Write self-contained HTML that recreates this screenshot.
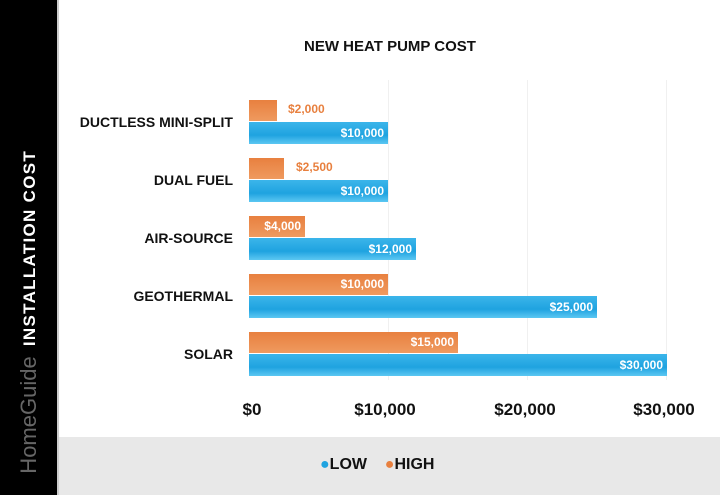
<!DOCTYPE html>
<html><head><meta charset="utf-8"><style>
body{margin:0;width:720px;height:495px;overflow:hidden;background:#fff;font-family:"Liberation Sans",sans-serif;position:relative}
.a{position:absolute}
.lbl{position:absolute;right:487px;font-weight:bold;font-size:14px;color:#111;white-space:nowrap}
.bar{position:absolute;left:249px;color:#fff;font-size:12px;font-weight:bold;text-align:right;box-sizing:border-box;padding-right:4px}
.lo{height:22px;line-height:22px;background:linear-gradient(#3bb5ea,#1fa3e0 60%,#5cc7f2)}
.hi{height:21px;line-height:21px;background:linear-gradient(#e8803f,#ef9a5f)}
.tk{position:absolute;top:400px;font-size:17px;font-weight:bold;color:#111;transform:translateX(-50%)}
</style></head><body>
<div class="a" style="left:0;top:0;width:57px;height:495px;background:#000"></div>
<div class="a" style="left:57px;top:0;width:2px;height:495px;background:#ccc"></div>
<div class="a" style="left:59px;top:437px;width:661px;height:58px;background:#e8e8e8"></div>
<div class="a" style="left:30px;top:248px;transform:translate(-50%,-50%) rotate(-90deg);color:#fff;font-weight:bold;font-size:17px;letter-spacing:1.3px;white-space:nowrap">INSTALLATION COST</div>
<div class="a" style="left:29px;top:415px;transform:translate(-50%,-50%) rotate(-90deg);color:#666;font-size:22px;white-space:nowrap">HomeGuide</div>
<div class="a" style="left:390px;top:38px;transform:translateX(-50%);font-weight:bold;font-size:15px;color:#111;white-space:nowrap">NEW HEAT PUMP COST</div>
<div class="a" style="left:388px;top:80px;width:1px;height:300px;background:#f0f0f0"></div>
<div class="a" style="left:527px;top:80px;width:1px;height:300px;background:#f0f0f0"></div>
<div class="a" style="left:666px;top:80px;width:1px;height:300px;background:#f0f0f0"></div>

<div class="lbl" style="top:114px">DUCTLESS MINI-SPLIT</div>
<div class="bar hi" style="top:100px;width:28px"></div>
<div class="a" style="left:288px;top:102px;color:#e8803f;font-size:12px;font-weight:bold">$2,000</div>
<div class="bar lo" style="top:122px;width:139px">$10,000</div>

<div class="lbl" style="top:172px">DUAL FUEL</div>
<div class="bar hi" style="top:158px;width:35px"></div>
<div class="a" style="left:296px;top:160px;color:#e8803f;font-size:12px;font-weight:bold">$2,500</div>
<div class="bar lo" style="top:180px;width:139px">$10,000</div>

<div class="lbl" style="top:230px">AIR-SOURCE</div>
<div class="bar hi" style="top:216px;width:56px">$4,000</div>
<div class="bar lo" style="top:238px;width:167px">$12,000</div>

<div class="lbl" style="top:288px">GEOTHERMAL</div>
<div class="bar hi" style="top:274px;width:139px">$10,000</div>
<div class="bar lo" style="top:296px;width:348px">$25,000</div>

<div class="lbl" style="top:346px">SOLAR</div>
<div class="bar hi" style="top:332px;width:209px">$15,000</div>
<div class="bar lo" style="top:354px;width:418px">$30,000</div>

<div class="tk" style="left:252px">$0</div>
<div class="tk" style="left:385px">$10,000</div>
<div class="tk" style="left:525px">$20,000</div>
<div class="tk" style="left:664px">$30,000</div>

<div class="a" style="left:320px;top:456px;font-weight:bold;font-size:16px;color:#111;white-space:nowrap"><span style="color:#1fa3e0">●</span>LOW &nbsp;&nbsp; <span style="color:#e8803f">●</span>HIGH</div>
</body></html>
